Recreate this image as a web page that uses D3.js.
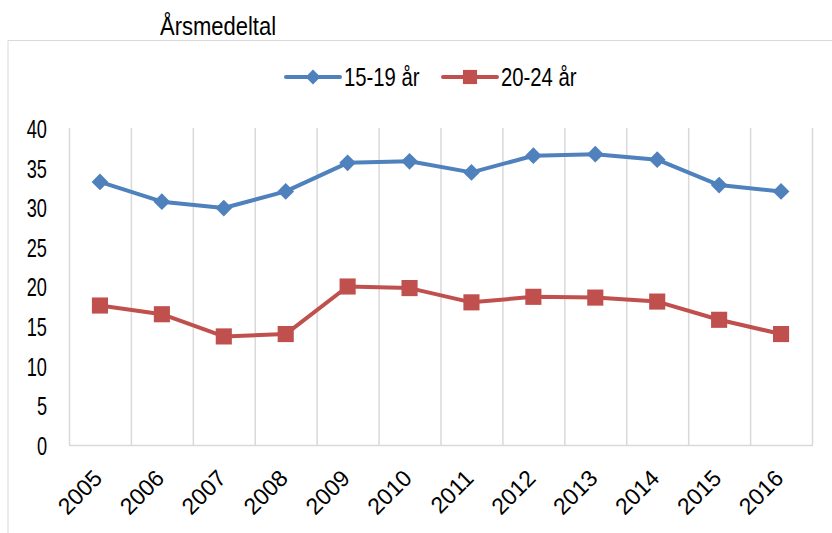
<!DOCTYPE html>
<html>
<head>
<meta charset="utf-8">
<script src="https://cdn.jsdelivr.net/npm/d3@7"></script>
<style>
  body { margin: 0; background: #fff; }
  text { font-family: "Liberation Sans", Arial, sans-serif; fill: #000; }
</style>
</head>
<body>
<div class="chart"></div>
<script>
const years = ["2005", "2006", "2007", "2008", "2009", "2010", "2011", "2012", "2013", "2014", "2015", "2016"];
const teens = [33.2, 30.7, 29.9, 32.0, 35.6, 35.8, 34.4, 36.5, 36.7, 36.0, 32.8, 32.0];
const young = [17.6, 16.5, 13.7, 14.0, 20.0, 19.8, 18.0, 18.7, 18.6, 18.1, 15.8, 14.0];
const yTicks = [0, 5, 10, 15, 20, 25, 30, 35, 40];

const series = [
  { name: "15-19 år", values: teens, color: "#4F81BD", shape: "diamond" },
  { name: "20-24 år", values: young, color: "#C0504D", shape: "square" },
];

const width = 832;
const height = 533;
const plot = { left: 69, right: 812, top: 128, bottom: 445 };
// the original uses a narrow font, so squeeze the text horizontally
const narrow = 0.7;

const svg = d3
  .select(".chart")
  .append("svg")
  .attr("width", width)
  .attr("height", height);

// outer chart frame (runs off the right and bottom of the image)
svg
  .append("path")
  .attr("d", `M8 ${height} L8 40.5 L${width} 40.5`)
  .attr("fill", "none")
  .attr("stroke", "#d9d9d9")
  .attr("stroke-width", 1);

svg
  .append("text")
  .attr("transform", `translate(160,35) scale(0.88,1)`)
  .attr("font-size", 25)
  .text("Årsmedeltal");

const x = d3.scaleBand().domain(years).range([plot.left, plot.right]);
const y = d3.scaleLinear().domain([0, 40]).range([plot.bottom, plot.top]);

// vertical gridlines on category boundaries
const bounds = years.map((d) => x(d)).concat([plot.right]);
svg
  .append("g")
  .selectAll("line")
  .data(bounds)
  .join("line")
  .attr("x1", (d) => d + 0.5)
  .attr("x2", (d) => d + 0.5)
  .attr("y1", plot.top)
  .attr("y2", plot.bottom)
  .attr("stroke", "#d9d9d9")
  .attr("stroke-width", 1.5);

svg
  .append("line")
  .attr("x1", plot.left)
  .attr("x2", plot.right + 1)
  .attr("y1", plot.bottom + 0.5)
  .attr("y2", plot.bottom + 0.5)
  .attr("stroke", "#d9d9d9")
  .attr("stroke-width", 1.5);

// y axis labels
const yAxis = d3.axisLeft(y).tickValues(yTicks).tickSize(0);
const gy = svg.append("g").attr("transform", `translate(${plot.left},0)`).call(yAxis);
gy.select(".domain").remove();
gy.selectAll("text")
  .attr("x", 0)
  .attr("font-size", 26)
  .attr("dy", "0.36em")
  .attr("fill", "#000")
  .attr("transform", `translate(-22,0) scale(${narrow},1)`);

// x axis labels
const xAxis = d3.axisBottom(x).tickSize(0).tickPadding(0);
const gx = svg.append("g").attr("transform", `translate(0,${plot.bottom})`).call(xAxis);
gx.select(".domain").remove();
gx.selectAll("text")
  .attr("font-size", 23)
  .attr("text-anchor", "end")
  .attr("fill", "#000")
  .attr("dy", "0.35em")
  .attr("transform", "translate(-2,29) rotate(-45)");

const line = d3
  .line()
  .x((d, i) => x(years[i]) + x.bandwidth() / 2)
  .y((d) => y(d));

series.forEach((s) => {
  svg
    .append("path")
    .attr("d", line(s.values))
    .attr("fill", "none")
    .attr("stroke", s.color)
    .attr("stroke-width", 4)
    .attr("stroke-linejoin", "round");

  const sym = s.shape === "diamond"
    ? d3.symbol().type(d3.symbolSquare).size(140)
    : d3.symbol().type(d3.symbolSquare).size(260);

  svg
    .append("g")
    .selectAll("path")
    .data(s.values)
    .join("path")
    .attr("d", sym)
    .attr("fill", s.color)
    .attr("transform", (d, i) => {
      const cx = x(years[i]) + x.bandwidth() / 2;
      return `translate(${cx},${y(d)})` + (s.shape === "diamond" ? " rotate(45)" : "");
    });
});

// legend
const legendPos = [286, 443];
series.forEach((s, i) => {
  const g = svg.append("g").attr("transform", `translate(${legendPos[i]},77)`);
  g.append("line")
    .attr("x1", 0)
    .attr("x2", 54)
    .attr("stroke", s.color)
    .attr("stroke-width", 4)
    .attr("stroke-linecap", "round");
  const sym = s.shape === "diamond"
    ? d3.symbol().type(d3.symbolSquare).size(110)
    : d3.symbol().type(d3.symbolSquare).size(200);
  g.append("path")
    .attr("d", sym)
    .attr("fill", s.color)
    .attr("transform", s.shape === "diamond" ? "translate(27,0) rotate(45)" : "translate(27,0)");
  g.append("text")
    .attr("transform", `translate(58,0) scale(0.78,1)`)
    .attr("dy", "0.36em")
    .attr("font-size", 26)
    .text(s.name);
});
</script>
</body>
</html>
